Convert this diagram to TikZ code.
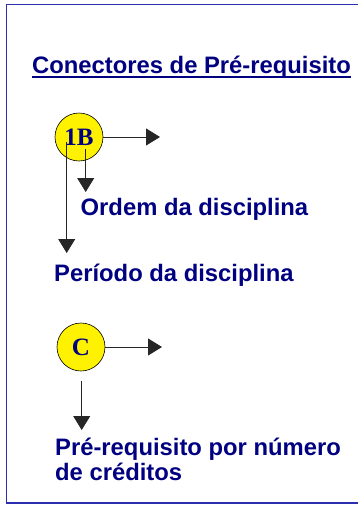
\documentclass[tikz,border=0pt]{standalone}
\usepackage{fontspec}
\setmainfont{Liberation Serif}
\setsansfont{Liberation Sans}
\usepackage{xcolor}
\usetikzlibrary{calc,arrows.meta}
\definecolor{navytxt}{RGB}{0,0,128}
\definecolor{framblue}{RGB}{45,45,175}

\begin{document}
\begin{tikzpicture}[x=1pt,y=-1pt,
  lbl/.style={anchor=base west,inner sep=0,text=navytxt,font=\sffamily\bfseries\fontsize{23.8}{28}\selectfont},
  conn/.style={circle,draw=black,line width=0.6pt,fill=yellow,minimum size=48pt,inner sep=0,text=navytxt,font=\rmfamily\bfseries\fontsize{25}{28}\selectfont},
  seta/.style={draw=black!85,line width=0.8pt,-{Triangle[length=14pt,width=17pt]}}]
\useasboundingbox (0,0) rectangle (357,506);
\draw [framblue, line width=1.5pt] (360,4.5) -- (6.5,4.5) -- (6.5,503) -- (360,503); %frame

\node [lbl] (titulo) at (32,73) {Conectores de Pré-requisito};
\draw [navytxt, line width=1.5pt] ($(titulo.base west)+(0,4)$) -- ($(titulo.base east)+(0,4)$);

%%%%%%%%%%%%%%%%%%%%%%%%%%%%%%%%%%%%%%%%%%%%%%%% 1B
\node [conn] (umB) at (79,137) {1B};
\coordinate (umBdir) at (160,137);
\coordinate (ordemtip) at (85.7,192);
\coordinate (periodotip) at (66.7,253);
\draw [seta] (umB.east) -- (umBdir);
\draw [seta] ($(umB.center)+(6.7,12)$) -- (ordemtip);
\draw [seta] ($(umB.center)+(-12.3,5)$) -- (periodotip);
\node [lbl] (ordem) at (80.5,215) {Ordem da disciplina};
\node [lbl] (periodo) at (54,281) {Período da disciplina};

%%%%%%%%%%%%%%%%%%%%%%%%%%%%%%%%%%%%%%%%%%%%%%%% C
\node [conn] (credC) at (81,347) {C};
\coordinate (credCdir) at (162,347);
\coordinate (credtop) at (81.7,381);
\coordinate (credtip) at (81.7,430);
\draw [seta] (credC.east) -- (credCdir);
\draw [seta] (credtop) -- (credtip);
\node [lbl] (credito) at (55,455.5) {Pré-requisito por número};
\node [lbl] (credito2) at (55,480) {de créditos};
\end{tikzpicture}
\end{document}
